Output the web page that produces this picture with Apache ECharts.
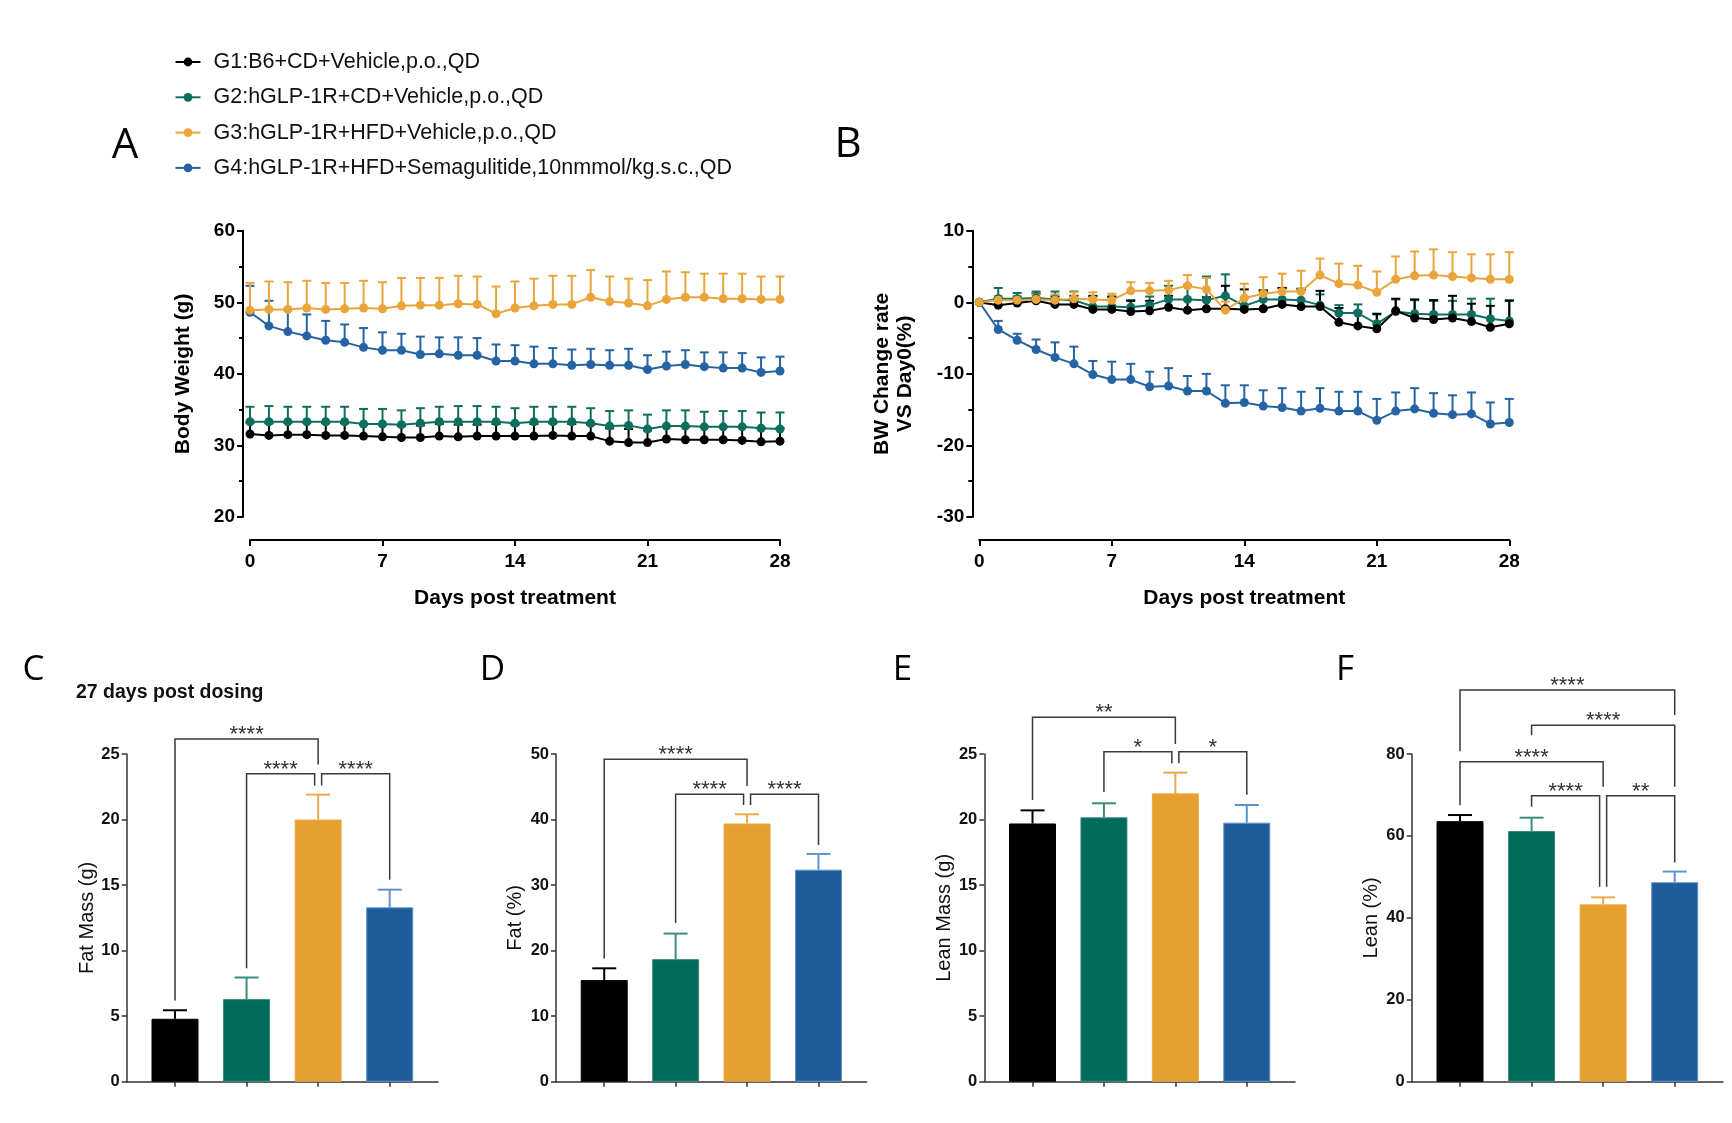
<!DOCTYPE html>
<html><head><meta charset="utf-8">
<script src="https://cdn.jsdelivr.net/npm/echarts@6/dist/echarts.min.js"></script>
<style>html,body{margin:0;padding:0;background:#fff}#c{width:1732px;height:1123px}</style>
</head><body><div id="c"></div>
<script>
// ---------------- DATA ----------------
const groupNames = [
  'G1:B6+CD+Vehicle,p.o.,QD',
  'G2:hGLP-1R+CD+Vehicle,p.o.,QD',
  'G3:hGLP-1R+HFD+Vehicle,p.o.,QD',
  'G4:hGLP-1R+HFD+Semagulitide,10nmmol/kg.s.c.,QD'
];
const days = [0,1,2,3,4,5,6,7,8,9,10,11,12,13,14,15,16,17,18,19,20,21,22,23,24,25,26,27,28];
const dayTicks = [0,7,14,21,28];

// Panel A: body weight (g), mean and upper SD
const bwG1 = [31.6,31.4,31.5,31.5,31.4,31.4,31.3,31.2,31.1,31.1,31.3,31.2,31.3,31.3,31.3,31.3,31.4,31.3,31.3,30.6,30.4,30.4,30.9,30.8,30.8,30.8,30.7,30.5,30.6];
const bwG1Err = [1.6,1.7,1.7,1.7,1.7,1.7,1.6,1.7,1.6,1.7,1.7,1.7,1.6,1.7,1.6,1.7,1.7,1.7,1.6,1.8,1.9,1.7,1.8,1.8,1.8,1.8,1.9,1.9,1.8];
const bwG2 = [33.3,33.3,33.3,33.3,33.3,33.3,33.0,33.0,32.9,33.1,33.3,33.3,33.3,33.3,33.1,33.3,33.3,33.3,33.1,32.7,32.8,32.3,32.7,32.7,32.6,32.6,32.6,32.4,32.3];
const bwG2Err = [2.1,2.2,2.1,2.1,2.1,2.1,2.1,2.1,2.0,2.1,2.1,2.2,2.2,2.1,2.1,2.1,2.1,2.1,2.1,2.1,2.1,2.0,2.2,2.2,2.1,2.2,2.2,2.2,2.3];
const bwG3 = [48.9,49.0,49.0,49.2,49.0,49.1,49.2,49.1,49.5,49.6,49.6,49.8,49.7,48.4,49.2,49.5,49.7,49.7,50.7,50.1,49.9,49.5,50.4,50.7,50.7,50.5,50.5,50.4,50.4];
const bwG3Err = [3.8,3.9,3.8,3.8,3.7,3.6,3.8,3.7,3.9,3.8,3.8,3.9,3.9,3.8,3.7,3.8,4.0,4.0,3.8,3.5,3.4,3.6,3.9,3.5,3.3,3.5,3.5,3.2,3.2];
const bwG4 = [48.6,46.7,45.9,45.3,44.7,44.4,43.7,43.3,43.3,42.7,42.8,42.6,42.6,41.8,41.8,41.4,41.4,41.2,41.3,41.2,41.2,40.6,41.1,41.3,41.0,40.8,40.8,40.2,40.4];
const bwG4Err = [3.7,3.5,3.0,3.0,2.7,2.5,2.7,2.5,2.3,2.5,2.3,2.5,2.4,2.3,2.2,2.4,2.2,2.2,2.2,2.1,2.3,2.0,2.0,2.0,2.0,2.2,2.1,2.1,2.0];

// Panel B: BW change rate vs Day0 (%)
const chG1 = [0,-0.4,-0.1,0.2,-0.3,-0.3,-1.0,-1.0,-1.3,-1.2,-0.7,-1.1,-0.9,-0.9,-1.0,-0.9,-0.3,-0.6,-0.6,-2.8,-3.3,-3.7,-1.2,-2.2,-2.4,-2.2,-2.7,-3.5,-3.0];
const chG1Err = [0,1.0,0.9,1.0,1.1,1.2,1.9,1.8,1.5,1.4,1.6,1.5,1.6,3.2,2.8,2.5,2.3,2.4,2.2,2.0,2.0,2.1,1.7,2.6,2.7,3.1,2.5,3.0,3.2];
const chG2 = [0,0.5,0.5,0.6,0.4,0.3,-0.6,-0.6,-0.7,-0.4,0.4,0.4,0.3,0.9,-0.5,0.4,0.4,0.3,-0.4,-1.5,-1.5,-3.0,-1.3,-1.6,-1.7,-1.7,-1.7,-2.3,-2.6];
const chG2Err = [0,1.5,0.8,0.9,1.1,1.2,1.4,1.3,1.0,1.2,1.9,2.0,3.3,3.0,1.1,1.3,1.6,1.6,1.5,1.1,1.2,1.3,1.7,1.9,1.9,1.9,2.2,2.8,2.9];
const chG3 = [0,0.3,0.3,0.4,0.3,0.5,0.4,0.3,1.6,1.6,1.7,2.3,1.8,-1.1,0.6,1.2,1.5,1.5,3.8,2.6,2.4,1.4,3.2,3.7,3.8,3.6,3.4,3.2,3.2];
const chG3Err = [0,0.6,0.5,0.7,0.8,0.9,1.0,0.9,1.2,1.1,1.3,1.5,1.6,1.2,2.0,2.3,2.5,2.9,2.3,2.8,2.7,2.9,3.2,3.4,3.6,3.4,3.3,3.5,3.8];
const chG4 = [0,-3.8,-5.3,-6.6,-7.7,-8.6,-10.1,-10.8,-10.8,-11.8,-11.7,-12.4,-12.4,-14.1,-14.0,-14.5,-14.7,-15.2,-14.8,-15.2,-15.2,-16.5,-15.2,-14.9,-15.5,-15.7,-15.6,-17.0,-16.8];
const chG4Err = [0,1.2,0.9,1.4,2.1,2.4,1.9,2.5,2.2,2.1,2.5,2.1,2.4,2.5,2.4,2.2,2.7,2.7,2.8,2.7,2.7,3.0,2.6,2.9,2.8,2.7,3.0,3.0,3.3];

// Panels C-F: bars (G1..G4) mean and upper SD
const fatMass = [4.8, 6.3, 20.0, 13.3];
const fatMassErr = [0.65, 1.65, 1.9, 1.35];
const fatPct = [15.5, 18.7, 39.4, 32.35];
const fatPctErr = [1.8, 3.9, 1.4, 2.4];
const leanMass = [19.7, 20.17, 22.0, 19.76];
const leanMassErr = [1.0, 1.07, 1.58, 1.35];
const leanPct = [63.6, 61.2, 43.3, 48.7];
const leanPctErr = [1.5, 3.25, 1.7, 2.6];

// significance brackets: [fromGroup, toGroup, level, fromLegEnd, toLegEnd, label]
const bracketsC = [[0,2,26.15,6.2,24.2,'****'],[1,2,23.5,8.65,22.6,'****'],[2,3,23.5,22.6,15.4,'****']];
const bracketsD = [[0,2,49.2,18.8,45.1,'****'],[1,2,43.85,24.2,42.2,'****'],[2,3,43.85,42.2,36.1,'****']];
const bracketsE = [[0,2,27.8,21.5,25.76,'**'],[1,2,25.18,22.1,24.3,'*'],[2,3,25.18,24.3,21.9,'*']];
const bracketsF = [[0,3,95.6,80.7,89.5,'****'],[1,3,87.0,84.6,72.0,'****'],[0,2,78.1,67.5,72.0,'****'],[1,2,69.8,67.1,47.6,'****'],[2,3,69.8,47.6,53.5,'**']];

// ---------------- STYLE ----------------
const FONT = "'Liberation Sans', Arial, sans-serif";
const lineColors = ['#000000', '#0d6e60', '#e9a53b', '#2663a3'];
const barColors = ['#000000', '#006a5b', '#e6a030', '#1f5c9a'];
const errColors = ['#000000', '#3a8c7e', '#eaa94a', '#5f92c9'];
const CAP_LINE = 4.5, CAP_BAR = 12, NUDGE = 3.5;

const chart = echarts.init(document.getElementById('c'), null, {renderer: 'canvas'});

function lineErr(gi, vals, errs, color) {
  return {
    type: 'custom', xAxisIndex: gi, yAxisIndex: gi, z: 1, silent: true, clip: false,
    data: days.map((d, i) => [d, vals[i], errs[i]]),
    encode: {x: 0, y: 1},
    renderItem: (p, api) => {
      const x = api.value(0), y = api.value(1), e = api.value(2);
      if (!e) return null;
      const a = api.coord([x, y]), b = api.coord([x, y + e]);
      const st = {stroke: color, lineWidth: 2};
      return {type: 'group', children: [
        {type: 'line', shape: {x1: a[0], y1: a[1], x2: b[0], y2: b[1]}, style: st},
        {type: 'line', shape: {x1: b[0] - CAP_LINE, y1: b[1], x2: b[0] + CAP_LINE, y2: b[1]}, style: st}
      ]};
    }
  };
}
function lineSer(gi, g, vals) {
  return {
    type: 'line', name: groupNames[g], xAxisIndex: gi, yAxisIndex: gi, z: 3,
    data: days.map((d, i) => [d, vals[i]]),
    symbol: 'circle', symbolSize: 9, showSymbol: true,
    lineStyle: {color: lineColors[g], width: 2},
    itemStyle: {color: lineColors[g]},
    emphasis: {disabled: true}
  };
}
function barSer(gi, vals) {
  return {
    type: 'bar', xAxisIndex: gi, yAxisIndex: gi, barWidth: 47, z: 2,
    data: vals.map((v, i) => ({value: [i, v], itemStyle: {color: barColors[i], borderColor: errColors[i], borderWidth: 1}})),
    emphasis: {disabled: true}
  };
}
function barErr(gi, vals, errs) {
  return {
    type: 'custom', xAxisIndex: gi, yAxisIndex: gi, z: 3, silent: true, clip: false,
    data: vals.map((v, i) => [i, v, errs[i]]),
    encode: {x: 0, y: 1},
    renderItem: (p, api) => {
      const i = api.value(0), y = api.value(1), e = api.value(2);
      const a = api.coord([i, y]), b = api.coord([i, y + e]);
      const st = {stroke: errColors[i], lineWidth: 2};
      return {type: 'group', children: [
        {type: 'line', shape: {x1: a[0], y1: a[1], x2: b[0], y2: b[1]}, style: st},
        {type: 'line', shape: {x1: b[0] - CAP_BAR, y1: b[1], x2: b[0] + CAP_BAR, y2: b[1]}, style: st}
      ]};
    }
  };
}
function bracketSer(gi, list) {
  const nudge = (b, end) => {
    const idx = end === 0 ? b[0] : b[1];
    const sib = list.some(o => o !== b && o[2] === b[2] && (end === 0 ? o[1] === idx : o[0] === idx));
    return sib ? (end === 0 ? NUDGE : -NUDGE) : 0;
  };
  return {
    type: 'custom', xAxisIndex: gi, yAxisIndex: gi, z: 4, silent: true, clip: false,
    data: list.map(b => [b[0], b[2]]),
    encode: {x: 0, y: 1},
    renderItem: (p, api) => {
      const b = list[p.dataIndex];
      const l1 = api.coord([b[0], b[3]]), t1 = api.coord([b[0], b[2]]);
      const l2 = api.coord([b[1], b[4]]), t2 = api.coord([b[1], b[2]]);
      const x1 = t1[0] + nudge(b, 0), x2 = t2[0] + nudge(b, 1);
      return {type: 'group', children: [
        {type: 'polyline', shape: {points: [[x1, l1[1]], [x1, t1[1]], [x2, t2[1]], [x2, l2[1]]]},
         style: {stroke: '#3a3a3a', lineWidth: 1.5, fill: null}},
        {type: 'text', style: {text: b[5], x: (x1 + x2) / 2, y: t1[1] - 4, align: 'center', verticalAlign: 'middle',
          font: '22px ' + FONT, fill: '#333'}}
      ]};
    }
  };
}

// grids
const grids = [
  {left: 250, top: 230.7, width: 530, height: 286.3},
  {left: 979.3, top: 230.7, width: 530, height: 286.3},
  {left: 126.7, top: 754, width: 311.3, height: 327.7},
  {left: 556, top: 754, width: 310.7, height: 327.7},
  {left: 984.3, top: 754, width: 310.7, height: 327.7},
  {left: 1411.7, top: 754, width: 311.3, height: 327.7}
];

const blackAxis = {show: true, onZero: false, lineStyle: {color: '#000', width: 2}};
function timeX(gi) {
  return {
    gridIndex: gi, type: 'value', min: 0, max: 28, interval: 7, offset: 23,
    axisLine: blackAxis, axisTick: {show: true, length: 6, lineStyle: {color: '#000', width: 2}},
    axisLabel: {fontSize: 19, fontWeight: 'bold', color: '#000', margin: 12, fontFamily: FONT},
    splitLine: {show: false},
    name: 'Days post treatment', nameLocation: 'middle', nameGap: 48,
    nameTextStyle: {fontSize: 21, fontWeight: 'bold', color: '#000', fontFamily: FONT}
  };
}
function timeY(gi, min, max, name, gap) {
  return {
    gridIndex: gi, type: 'value', min: min, max: max, interval: 10, offset: 7,
    axisLine: blackAxis, axisTick: {show: true, length: 6, lineStyle: {color: '#000', width: 2}},
    minorTick: {show: true, splitNumber: 2, length: 4, lineStyle: {color: '#000', width: 2}},
    axisLabel: {fontSize: 19, fontWeight: 'bold', color: '#000', margin: 8, fontFamily: FONT},
    splitLine: {show: false}, minorSplitLine: {show: false},
    name: name, nameLocation: 'middle', nameGap: gap,
    nameTextStyle: {fontSize: 21, fontWeight: 'bold', color: '#000', fontFamily: FONT, lineHeight: 23}
  };
}
const grayAxis = {show: true, onZero: false, lineStyle: {color: '#333', width: 1.5}};
function barX(gi) {
  return {
    gridIndex: gi, type: 'value', min: -0.675, max: 3.675,
    axisLine: grayAxis,
    axisTick: {show: true, length: 5, customValues: [0, 1, 2, 3], lineStyle: {color: '#333', width: 1.5}},
    axisLabel: {show: false}, splitLine: {show: false}
  };
}
function barY(gi, max, interval, name, gap) {
  return {
    gridIndex: gi, type: 'value', min: 0, max: max, interval: interval,
    axisLine: grayAxis, axisTick: {show: true, length: 5, lineStyle: {color: '#333', width: 1.5}},
    axisLabel: {fontSize: 16.5, fontWeight: 'bold', color: '#111', margin: 7, fontFamily: FONT},
    splitLine: {show: false},
    name: name, nameLocation: 'middle', nameGap: gap,
    nameTextStyle: {fontSize: 20, color: '#111', fontFamily: FONT}
  };
}

const letter = (t, x, y, size) => ({type: 'text', x: x, y: y,
  style: {text: t, font: size + "px 'Open Sans', 'Liberation Sans', sans-serif", fill: '#000', align: 'center', verticalAlign: 'middle'}});

const option = {
  animation: false,
  backgroundColor: '#fff',
  legend: {
    data: groupNames, orient: 'vertical', left: 174.5, top: 51, padding: 0,
    itemWidth: 25, itemHeight: 11, itemGap: 13.3,
    textStyle: {fontSize: 21.5, fontFamily: FONT, color: '#111', lineHeight: 22, padding: [0, 0, 0, 8]},
    selectedMode: false
  },
  graphic: [
    letter('A', 125, 146, 42), letter('B', 848, 145, 42),
    letter('C', 33.5, 670, 35), letter('D', 492.5, 670, 35), letter('E', 902.5, 670, 35), letter('F', 1345, 670, 35),
    {type: 'text', x: 76, y: 693, style: {text: '27 days post dosing', font: 'bold 19.5px ' + FONT, fill: '#111', align: 'left', verticalAlign: 'middle'}}
  ],
  grid: grids,
  xAxis: [timeX(0), timeX(1), barX(2), barX(3), barX(4), barX(5)],
  yAxis: [
    timeY(0, 20, 60, 'Body Weight (g)', 48),
    timeY(1, -30, 10, 'BW Change rate\nVS Day0(%)', 56),
    barY(2, 25, 5, 'Fat Mass (g)', 29),
    barY(3, 50, 10, 'Fat (%)', 31),
    barY(4, 25, 5, 'Lean Mass (g)', 30),
    barY(5, 80, 20, 'Lean (%)', 30)
  ],
  series: [
    lineErr(0, bwG2, bwG2Err, lineColors[1]), lineErr(0, bwG1, bwG1Err, lineColors[0]),
    lineErr(0, bwG4, bwG4Err, lineColors[3]), lineErr(0, bwG3, bwG3Err, lineColors[2]),
    lineSer(0, 1, bwG2), lineSer(0, 0, bwG1), lineSer(0, 3, bwG4), lineSer(0, 2, bwG3),
    lineErr(1, chG2, chG2Err, lineColors[1]), lineErr(1, chG1, chG1Err, lineColors[0]),
    lineErr(1, chG4, chG4Err, lineColors[3]), lineErr(1, chG3, chG3Err, lineColors[2]),
    lineSer(1, 1, chG2), lineSer(1, 0, chG1), lineSer(1, 3, chG4), lineSer(1, 2, chG3),
    barSer(2, fatMass), barErr(2, fatMass, fatMassErr), bracketSer(2, bracketsC),
    barSer(3, fatPct), barErr(3, fatPct, fatPctErr), bracketSer(3, bracketsD),
    barSer(4, leanMass), barErr(4, leanMass, leanMassErr), bracketSer(4, bracketsE),
    barSer(5, leanPct), barErr(5, leanPct, leanPctErr), bracketSer(5, bracketsF)
  ]
};
chart.setOption(option);
</script>
</body></html>
